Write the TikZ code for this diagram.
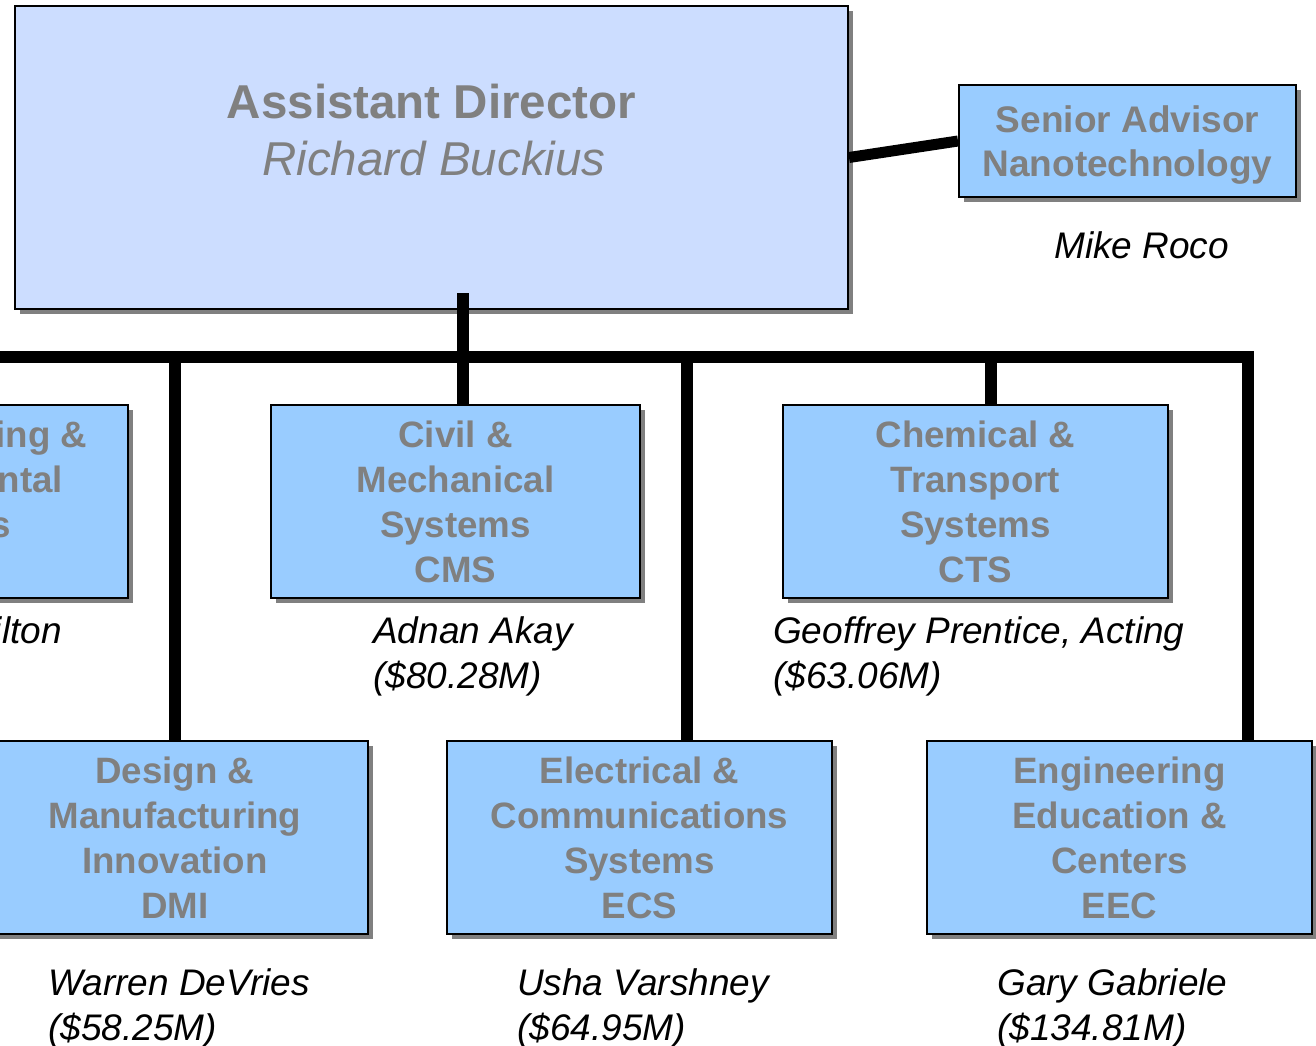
\documentclass[tikz,border=0pt]{standalone}
\usepackage{fontspec}
\setmainfont{Liberation Sans}
\usetikzlibrary{shadows}
\definecolor{topfill}{HTML}{CCDDFF}
\definecolor{divfill}{HTML}{99CCFF}
\definecolor{txtgray}{HTML}{808080}
\tikzset{
  shadowed/.style={draw=black, line width=2pt,
    drop shadow={shadow xshift=5pt, shadow yshift=-5pt, fill=txtgray, opacity=1}},
  divbox/.style={shadowed, fill=divfill, minimum width=385pt, minimum height=193pt,
    inner sep=0pt, align=center, text=txtgray,
    font=\fontsize{36.7}{45}\selectfont\bfseries},
  persontext/.style={anchor=base west, inner sep=0pt, text=black,
    font=\fontsize{37}{45}\selectfont\itshape},
  titletext/.style={anchor=base, inner sep=0pt, text=txtgray},
  bus/.style={line width=12pt, draw=black, line join=miter},
}
\begin{document}
\begin{tikzpicture}[x=1pt,y=-1pt]
\useasboundingbox (0,0) rectangle (1316,1045);
\clip (0,0) rectangle (1316,1045);
% top level boxes
\node[shadowed, fill=topfill, minimum width=833pt, minimum height=303pt, inner sep=0pt] (ad) at (431.5,157.5) {};
\node[titletext, font=\fontsize{47.5}{57}\selectfont\bfseries] (adt1) at (431.5,118) {Assistant Director};
\node[titletext, font=\fontsize{47.5}{57}\selectfont\itshape] (adt2) at (434,175) {Richard Buckius};
\node[shadowed, fill=divfill, minimum width=337pt, minimum height=112pt, inner sep=0pt,
  align=center, text=txtgray, text depth=0pt, font=\fontsize{37}{44}\selectfont\bfseries] (sa) at (1127.5,141) {Senior Advisor\\Nanotechnology};
\node[persontext] (roco) at (1054,258) {Mike Roco};
% connectors
\draw[line width=11pt] (ad.east) -- (sa.west);
\coordinate (adstub) at (463,293);
\coordinate (busL) at (-20,357);
\coordinate (busR) at (1248,357);
\coordinate (jDMI) at (175,357);
\coordinate (jECS) at (687,357);
\coordinate (jCTS) at (991,357);
% division boxes
\node[divbox] (bes) at (-64.5,501.5) {Bioengineering \&\\Environmental\\Systems\\BES};
\node[divbox, minimum width=369pt] (cms) at (455.5,501.5) {Civil \&\\Mechanical\\Systems\\CMS};
\node[divbox] (cts) at (975.5,501.5) {Chemical \&\\Transport\\Systems\\CTS};
\node[divbox, minimum width=386pt] (dmi) at (175,837.5) {Design \&\\Manufacturing\\Innovation\\DMI};
\node[divbox] (ecs) at (639.5,837.5) {Electrical \&\\Communications\\Systems\\ECS};
\node[divbox] (eec) at (1119.5,837.5) {Engineering\\Education \&\\Centers\\EEC};
\draw[bus] (busL) -- (busR) -- (eec.north -| busR);
\draw[bus] (adstub) -- (cms.north -| adstub);
\draw[bus] (jDMI) -- (dmi.north -| jDMI);
\draw[bus] (jECS) -- (ecs.north -| jECS);
\draw[bus] (jCTS) -- (cts.north -| jCTS);
% people
\node[persontext, anchor=base east] (hamilton) at (62,643) {Bruce Hamilton};
\node[persontext] (akay) at (373,643) {Adnan Akay};
\node[persontext] (akayb) at (373,688) {(\$80.28M)};
\node[persontext] (prentice) at (773,643) {Geoffrey Prentice, Acting};
\node[persontext] (prenticeb) at (773,688) {(\$63.06M)};
\node[persontext] (devries) at (48,995) {Warren DeVries};
\node[persontext] (devriesb) at (48,1040) {(\$58.25M)};
\node[persontext] (varshney) at (517,995) {Usha Varshney};
\node[persontext] (varshneyb) at (517,1040) {(\$64.95M)};
\node[persontext] (gabriele) at (997,995) {Gary Gabriele};
\node[persontext] (gabrieleb) at (997,1040) {(\$134.81M)};
\end{tikzpicture}
\end{document}
